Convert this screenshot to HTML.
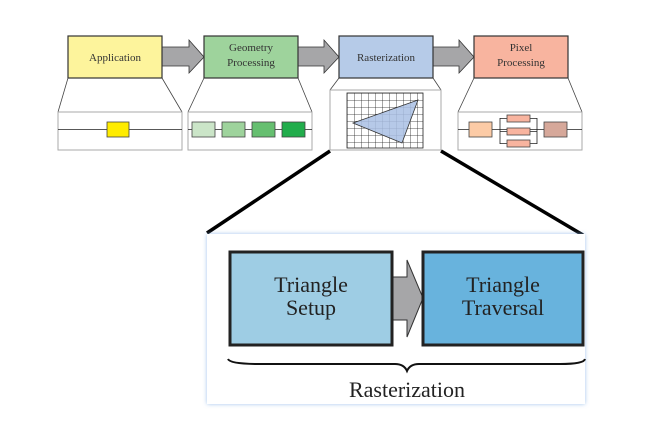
<!DOCTYPE html>
<html><head><style>body{margin:0;background:#fff}svg{display:block}</style></head><body>
<svg width="668" height="429" viewBox="0 0 668 429" xmlns="http://www.w3.org/2000/svg" font-family="Liberation Serif, serif">
<defs><pattern id="g" x="347" y="93" width="7" height="7" patternUnits="userSpaceOnUse"><path d="M0 0H7M0 0V7" stroke="#222" stroke-width="0.8" fill="none"/></pattern>
<filter id="sh"><feDropShadow dx="0" dy="0" stdDeviation="2" flood-color="#8ab4e8" flood-opacity="0.8"/></filter></defs>
<!-- top arrows -->
<g fill="#a6a6a8" stroke="#333" stroke-width="0.8">
<path d="M162 47H189V40L204 57L189 73V66H162Z"/>
<path d="M298 47H324V40L339 57L324 73V66H298Z"/>
<path d="M433 47H459V40L474 57L459 73V66H433Z"/>
</g>
<!-- boxes -->
<g stroke="#333" stroke-width="1.2">
<rect x="68" y="36" width="94" height="42" fill="#fdf49c"/>
<rect x="204" y="36" width="94" height="42" fill="#9ed39c"/>
<rect x="339" y="36" width="94" height="42" fill="#b6cbe8"/>
<rect x="474" y="36" width="94" height="42" fill="#f8b49f"/>
</g>
<g font-size="11" fill="#333" text-anchor="middle">
<text x="115" y="61">Application</text>
<text x="251" y="51">Geometry</text><text x="251" y="66">Processing</text>
<text x="386" y="61">Rasterization</text>
<text x="521" y="51">Pixel</text><text x="521" y="66">Processing</text>
</g>
<!-- trapezoid lines -->
<g stroke="#444" stroke-width="0.8" fill="none">
<path d="M68 78L58 112M162 78L182 112M204 78L188 112M298 78L312 112M339 78L330 90M433 78L441 90M474 78L458 112M568 78L582 112"/>
</g>
<!-- panels -->
<g fill="#fff" stroke="#aaa" stroke-width="1">
<rect x="58" y="112" width="124" height="38"/>
<rect x="188" y="112" width="124" height="38"/>
<rect x="330" y="90" width="111" height="60"/>
<rect x="458" y="112" width="124" height="38"/>
</g>
<g stroke="#222" stroke-width="0.8" fill="none">
<path d="M58 129.5H182M188 129.5H312M458 129.5H582"/>
<path d="M500 118V144M537 118V144M500 118.5H507M500 131.5H507M500 143.5H507M530 118.5H537M530 131.5H537M530 143.5H537"/>
</g>
<g stroke="#444" stroke-width="0.8">
<rect x="107" y="122" width="22" height="15" fill="#ffec00"/>
<rect x="192" y="122" width="23" height="15" fill="#cbe5c8"/>
<rect x="222" y="122" width="23" height="15" fill="#9ed39c"/>
<rect x="252" y="122" width="23" height="15" fill="#66bf70"/>
<rect x="282" y="122" width="23" height="15" fill="#22ad4c"/>
<rect x="469" y="122" width="23" height="15" fill="#fccba6"/>
<rect x="507" y="115" width="23" height="7" fill="#f8b49f"/>
<rect x="507" y="128" width="23" height="7" fill="#f8b49f"/>
<rect x="507" y="140" width="23" height="7" fill="#f8b49f"/>
<rect x="544" y="122" width="23" height="15" fill="#d6a89a"/>
</g>
<rect x="347" y="93" width="76" height="55" fill="url(#g)" stroke="#222" stroke-width="0.8"/>
<path d="M353 123L418 100L402 143Z" fill="#a9c0e4" fill-opacity="0.85" stroke="#333" stroke-width="0.8"/>
<!-- zoom lines -->
<g stroke="#000" stroke-width="3.5"><path d="M330 151L207 233M441 151L583 235"/></g>
<!-- bottom panel -->
<rect x="207" y="234" width="378" height="170" fill="#fff" filter="url(#sh)"/>
<path d="M392 277H407V260L423 298L407 337V320H392Z" fill="#a6a6a8" stroke="#333" stroke-width="1"/>
<rect x="230" y="252" width="162" height="93" fill="#9ecde4" stroke="#222" stroke-width="3"/>
<rect x="423" y="252" width="160" height="93" fill="#68b3dd" stroke="#222" stroke-width="3"/>
<g font-size="22" fill="#222" text-anchor="middle">
<text x="311" y="292">Triangle</text><text x="311" y="315">Setup</text>
<text x="503" y="292">Triangle</text><text x="503" y="315">Traversal</text>
<text x="407" y="397">Rasterization</text>
</g>
<path d="M228 359Q230 364 260 364H395Q404 364 407 371Q410 364 419 364H560Q584 364 585 359" fill="none" stroke="#111" stroke-width="2"/>
</svg>
</body></html>
